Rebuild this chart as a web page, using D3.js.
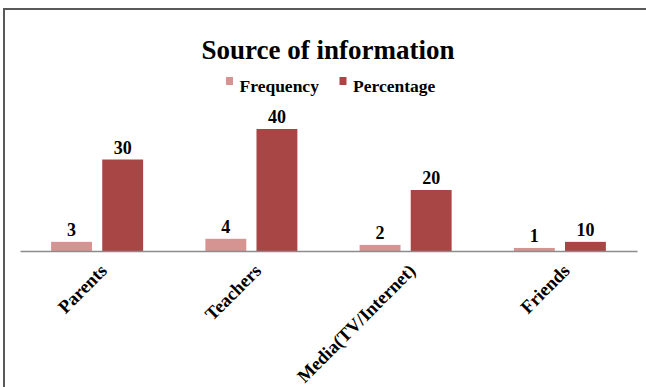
<!DOCTYPE html>
<html>
<head>
<meta charset="utf-8">
<script src="https://cdn.jsdelivr.net/npm/d3@7"></script>
<style>
  body { margin: 0; background: #fff; }
  svg { display: block; }
  text { font-family: "Liberation Serif", "Times New Roman", serif; font-weight: bold; fill: #000; }
</style>
</head>
<body>
<div id="chart"></div>
<script>
// values
var categories = ["Parents", "Teachers", "Media(TV/Internet)", "Friends"];
var frequency = [3, 4, 2, 1];
var percentage = [30, 40, 20, 10];
// the source chart draws the Friends percentage bar much shorter than its label (about 3)
var percentageDrawn = [30, 40, 20, 3];
var seriesNames = ["Frequency", "Percentage"];
var colors = ["#d59392", "#a84645"];

var width = 646,
    height = 387;

var svg = d3.select("#chart")
    .append("svg")
    .attr("width", width)
    .attr("height", height);

// outer frame (runs off the right and bottom of the picture)
svg.append("path")
    .attr("d", "M4,400 L4,9 L660,9")
    .attr("fill", "none")
    .attr("stroke", "#595959")
    .attr("stroke-width", 2);

var x0 = d3.scaleBand()
    .domain(categories)
    .range([20, 637]);

var x1 = d3.scaleBand()
    .domain(seriesNames)
    .range([-46, 46])
    .paddingInner(0.2);

var y = d3.scaleLinear()
    .domain([0, 50])
    .range([251, 98.5]);

var rows = categories.map(function (c, i) {
    return {
        cat: c,
        bars: [
            { s: "Frequency", v: frequency[i], label: frequency[i] },
            { s: "Percentage", v: percentageDrawn[i], label: percentage[i] }
        ]
    };
});

var group = svg.append("g")
    .selectAll("g")
    .data(rows)
    .enter().append("g")
      .attr("transform", function (d) { return "translate(" + (x0(d.cat) + x0.bandwidth() / 2) + ",0)"; });

group.selectAll("rect")
    .data(function (d) { return d.bars; })
    .enter().append("rect")
      .attr("x", function (d) { return x1(d.s); })
      .attr("width", x1.bandwidth())
      .attr("y", function (d) { return y(d.v); })
      .attr("height", function (d) { return y(0) - y(d.v); })
      .attr("fill", function (d, i) { return colors[i]; });

group.selectAll("text.val")
    .data(function (d) { return d.bars; })
    .enter().append("text")
      .attr("class", "val")
      .attr("x", function (d) { return x1(d.s) + x1.bandwidth() / 2; })
      .attr("y", function (d) { return y(d.v) - 6; })
      .attr("text-anchor", "middle")
      .style("font-size", "18px")
      .text(function (d) { return d.label; });

// category axis
var xAxis = svg.append("g")
    .attr("transform", "translate(0," + y(0) + ")")
    .call(d3.axisBottom(x0).tickSize(0).tickSizeOuter(0).tickPadding(0));

xAxis.select(".domain")
    .attr("stroke", "#8c8c8c")
    .attr("stroke-width", 1.5);

xAxis.selectAll(".tick text")
    .attr("fill", "#000")
    .style("font-family", "'Liberation Serif', 'Times New Roman', serif")
    .style("font-weight", "bold")
    .style("font-size", "18.5px")
    .attr("text-anchor", "end")
    .attr("transform", "translate(2,12) rotate(-45)")
    .attr("y", 0)
    .attr("dy", "0.68em");

// title
svg.append("text")
    .attr("x", 328)
    .attr("y", 59)
    .attr("text-anchor", "middle")
    .style("font-size", "27px")
    .text("Source of information");

// legend
var legend = svg.append("g")
    .selectAll("g")
    .data(seriesNames)
    .enter().append("g")
      .attr("transform", function (d, i) { return "translate(" + [226, 339.5][i] + ",0)"; });

legend.append("rect")
    .attr("y", 77)
    .attr("width", 7)
    .attr("height", 8)
    .attr("fill", function (d, i) { return colors[i]; });

legend.append("text")
    .attr("x", 13.5)
    .attr("y", 91.5)
    .style("font-size", "17.5px")
    .text(function (d) { return d; });
</script>
</body>
</html>
